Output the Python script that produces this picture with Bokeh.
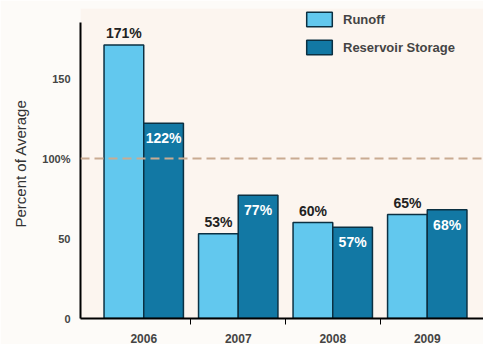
from bokeh.plotting import figure
from bokeh.models import ColumnDataSource, Range1d, FixedTicker, Span, Legend, LegendItem
from bokeh.transform import dodge
from bokeh.core.properties import value
from bokeh.embed import file_html
from bokeh.resources import INLINE

years = ["2006", "2007", "2008", "2009"]
runoff = [171, 53, 60, 65]
reservoir = [122, 77, 57, 68]
y_ticks = [0, 50, 100, 150]
y_tick_labels = ["0", "50", "100%", "150"]

xs = list(range(len(years)))
src = ColumnDataSource(dict(
    x=xs, runoff=runoff, reservoir=reservoir,
    rl=[f"{v}%" for v in runoff], sl=[f"{v}%" for v in reservoir],
))

FONT = "Liberation Sans"

p = figure(frame_width=403, frame_height=310,
           x_range=Range1d(-0.669, 3.595), y_range=Range1d(0, 193.75),
           output_backend="svg", toolbar_location=None,
           min_border_left=80, min_border_right=0, min_border_top=8, min_border_bottom=24)
p.outline_line_color = None
p.background_fill_color = "#fcf5ef"
p.border_fill_color = "#fdfbf8"
p.xgrid.visible = False
p.ygrid.visible = False

p.add_layout(Span(location=100, dimension="width", line_color="#c9ab92",
                  line_width=2, line_dash="9 5"))

r1 = p.vbar(x=dodge("x", -0.21, range=p.x_range), top="runoff", width=0.42, source=src,
            fill_color="#62c8ee", line_color="#0b3042", line_width=1.5)
r2 = p.vbar(x=dodge("x", 0.21, range=p.x_range), top="reservoir", width=0.42, source=src,
            fill_color="#1278a4", line_color="#0b3042", line_width=1.5)

p.text(x=dodge("x", -0.21, range=p.x_range), y="runoff", text="rl", source=src,
       y_offset=-4, text_align="center", text_baseline="bottom",
       text_font=value(FONT), text_font_style="bold", text_font_size="14px",
       text_color="#222222")
p.text(x=dodge("x", 0.21, range=p.x_range), y="reservoir", text="sl", source=src,
       y_offset=7, text_align="center", text_baseline="top",
       text_font=value(FONT), text_font_style="bold", text_font_size="14px",
       text_color="white")

ya = p.yaxis[0]
ya.ticker = FixedTicker(ticks=y_ticks)
ya.major_label_overrides = {t: l for t, l in zip(y_ticks, y_tick_labels)}
ya.bounds = (0, 185)
ya.axis_line_width = 2
ya.axis_line_color = "black"
ya.major_tick_line_color = None
ya.minor_tick_line_color = None
ya.major_label_text_font = FONT
ya.major_label_text_font_style = "bold"
ya.major_label_text_font_size = "11px"
ya.major_label_standoff = 4
ya.axis_label = "Percent of Average"
ya.axis_label_text_font = FONT
ya.axis_label_text_font_style = "normal"
ya.axis_label_text_font_size = "15px"
ya.axis_label_text_color = "#333333"
ya.axis_label_standoff = 10

xa = p.xaxis[0]
xa.ticker = FixedTicker(ticks=xs, minor_ticks=[0.5, 1.5, 2.5])
xa.major_label_overrides = {i: y for i, y in zip(xs, years)}
xa.axis_line_width = 2
xa.axis_line_color = "black"
xa.major_tick_line_color = None
xa.minor_tick_line_color = "black"
xa.minor_tick_out = 6
xa.minor_tick_in = 0
xa.major_label_text_font = FONT
xa.major_label_text_font_style = "bold"
xa.major_label_text_font_size = "12px"
xa.major_label_standoff = 9

legend = Legend(items=[LegendItem(label="Runoff", renderers=[r1]),
                       LegendItem(label="Reservoir Storage", renderers=[r2])],
                location=(223, 262), padding=0, margin=0, spacing=10,
                glyph_width=32, glyph_height=18, label_standoff=8,
                label_text_font=FONT, label_text_font_style="bold",
                label_text_font_size="13px",
                background_fill_alpha=0, border_line_alpha=0)
p.add_layout(legend)

open("out.html", "w").write(file_html(p, INLINE))
